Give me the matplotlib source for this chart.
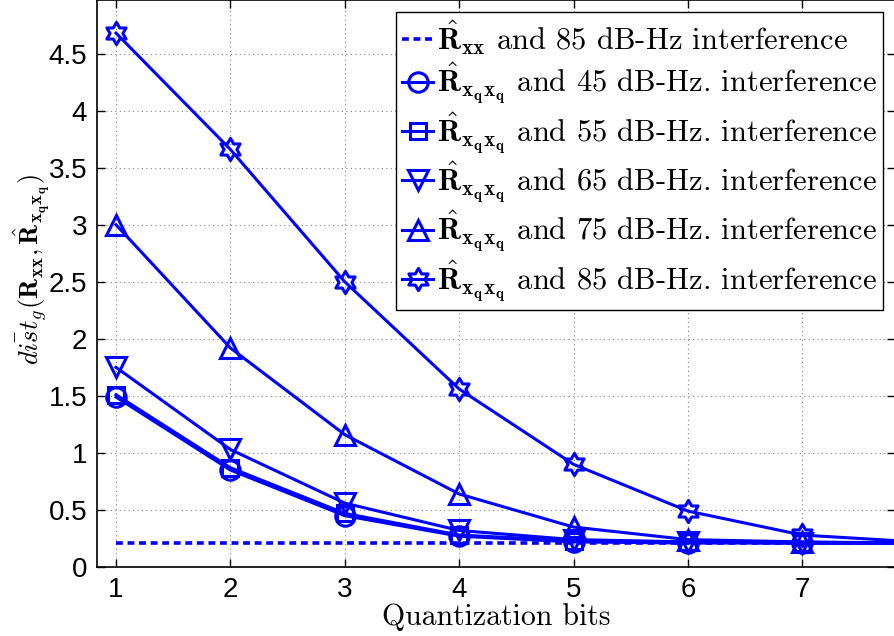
import numpy as np
import matplotlib
matplotlib.use("Agg")
import matplotlib.pyplot as plt
from matplotlib.path import Path

plt.rcParams['mathtext.fontset'] = 'cm'
plt.rcParams['axes.unicode_minus'] = False

bits = [1, 2, 3, 4, 5, 6, 7, 8]
ref_85 = [0.213] * 8
q_45 = [1.49, 0.85, 0.45, 0.27, 0.22, 0.21, 0.21, 0.21]
q_55 = [1.51, 0.87, 0.47, 0.28, 0.23, 0.22, 0.21, 0.21]
q_65 = [1.75, 1.03, 0.56, 0.32, 0.24, 0.22, 0.21, 0.21]
q_75 = [3.00, 1.92, 1.16, 0.64, 0.35, 0.24, 0.22, 0.21]
q_85 = [4.68, 3.66, 2.50, 1.56, 0.90, 0.49, 0.28, 0.22]

labels = [
    r'$\hat{\mathbf{R}}_{\mathbf{xx}}$ and 85 dB-Hz interference',
    r'$\hat{\mathbf{R}}_{\mathbf{x_q x_q}}$ and 45 dB-Hz. interference',
    r'$\hat{\mathbf{R}}_{\mathbf{x_q x_q}}$ and 55 dB-Hz. interference',
    r'$\hat{\mathbf{R}}_{\mathbf{x_q x_q}}$ and 65 dB-Hz. interference',
    r'$\hat{\mathbf{R}}_{\mathbf{x_q x_q}}$ and 75 dB-Hz. interference',
    r'$\hat{\mathbf{R}}_{\mathbf{x_q x_q}}$ and 85 dB-Hz. interference',
]

# six-pointed star (hexagram) marker
ang = np.pi / 2 + np.arange(12) * np.pi / 6
rad = np.where(np.arange(12) % 2 == 0, 1.0, 1.0 / np.sqrt(3))
verts = np.column_stack([rad * np.cos(ang), rad * np.sin(ang)])
verts = np.vstack([verts, verts[0]])
codes = [Path.MOVETO] + [Path.LINETO] * 11 + [Path.CLOSEPOLY]
hexagram = Path(verts, codes)

blue = '#0000ff'
fig = plt.figure(figsize=(8.95, 6.36), dpi=100)
ax = fig.add_axes([0.1084, 0.1085, 0.8916, 0.8915])

style = dict(color=blue, lw=2.2, mfc='none', mew=2.2, ms=14)
h0, = ax.plot(bits, ref_85, ls=(0, (1.9, 1.3)), color=blue, lw=2.6,
              label=labels[0])
h1, = ax.plot(bits, q_45, marker='o', label=labels[1], **style)
h2, = ax.plot(bits, q_55, marker='s', label=labels[2], **{**style, 'ms': 12})
h3, = ax.plot(bits, q_65, marker='v', label=labels[3], **style)
h4, = ax.plot(bits, q_75, marker='^', label=labels[4], **style)
h5, = ax.plot(bits, q_85, marker=hexagram, label=labels[5],
              **{**style, 'ms': 16})

ax.set_xlim(0.834, 7.81)
ax.set_ylim(0, 4.97)
ax.set_xticks(range(1, 8))
ax.set_yticks([0, 0.5, 1, 1.5, 2, 2.5, 3, 3.5, 4, 4.5])
ax.set_yticklabels(['0', '0.5', '1', '1.5', '2', '2.5', '3', '3.5', '4', '4.5'])
ax.grid(True, ls=(0, (1, 3)), color='#808080', lw=0.8)
ax.tick_params(direction='in', length=6, width=1, top=True, right=True,
               labelsize=20, pad=7)
for lab in ax.get_xticklabels() + ax.get_yticklabels():
    lab.set_family('Liberation Sans')
for sp in ax.spines.values():
    sp.set_linewidth(1.2)

ax.set_xlabel('Quantization bits', family='cmr10', fontsize=21.5, labelpad=0)
ax.set_ylabel(r'$\bar{dist}_g(\mathbf{R_{xx}},\hat{\mathbf{R}}_{\mathbf{x_q x_q}})$',
              fontsize=19)
ax.yaxis.set_label_coords(-0.057, 0.524)

leg = ax.legend(handles=[h0, h1, h2, h3, h4, h5], loc='upper left',
                bbox_to_anchor=(0.375, 0.979), borderaxespad=0,
                prop={'family': 'cmr10', 'size': 22}, frameon=True,
                fancybox=False, edgecolor='black', framealpha=1,
                handlelength=1.0, handletextpad=0.12, borderpad=0.2,
                labelspacing=0.12)
leg.get_frame().set_linewidth(1.0)

fig.savefig('out.png', dpi=100)
